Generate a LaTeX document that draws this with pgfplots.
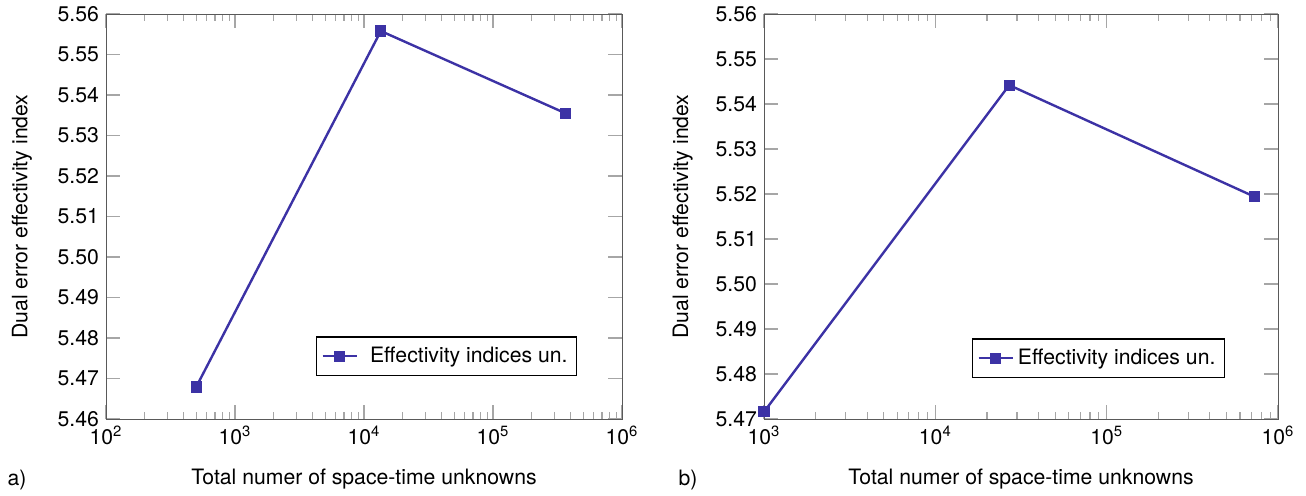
\documentclass[border=0pt]{standalone}
\usepackage{fontspec}
\setmainfont{TeX Gyre Heros}
\usepackage{pgfplots}
\pgfplotsset{compat=1.18}
\definecolor{serblue}{RGB}{60,50,165}
\pgfplotsset{
  myax/.style={
    scale only axis,
    anchor=south west,
    height=202.5pt,
    /pgf/number format/assume math mode=true,
    font=\fontsize{10.6}{12.7}\selectfont,
    axis line style={black!65},
    major tick style={black!35, line width=0.7pt},
    minor tick style={black!35, line width=0.6pt},
    major tick length=7pt,
    minor tick length=3.5pt,
    yticklabel style={/pgf/number format/.cd, fixed, fixed zerofill, precision=2},
    ylabel={Dual error effectivity index},
    xlabel={Total numer of space-time unknowns},
    legend cell align=left,
    legend image post style={xshift=1.5pt},
    legend style={draw=black, line width=0.6pt, font=\fontsize{10.6}{12.7}\selectfont, inner xsep=2.5pt, inner ysep=3pt},
  },
  myplot/.style={serblue, line width=1.2pt, mark=square*, mark size=2.2pt, mark options={solid}},
}
\begin{document}
\begin{tikzpicture}
\path[use as bounding box] (0,0) rectangle (653pt,247.5pt);
\begin{axis}[xmode=log, myax,
  at={(53pt,38pt)}, width=258pt,
  xmin=1e2, xmax=1e6, ymin=5.46, ymax=5.56,
  xtick={1e2,1e3,1e4,1e5,1e6},
  xticklabels={10\textsuperscript{2},10\textsuperscript{3},10\textsuperscript{4},10\textsuperscript{5},10\textsuperscript{6}},
  ytick={5.46,5.47,5.48,5.49,5.50,5.51,5.52,5.53,5.54,5.55,5.56},
  xlabel style={at={(axis description cs:0.5,-0.148)}, anchor=center},
  ylabel style={at={(axis description cs:-0.163,0.5)}, anchor=center},
  legend style={at={(axis description cs:0.913,0.106)}, anchor=south east},
]
\addplot[myplot] coordinates {(500,5.4679) (13500,5.5558) (364500,5.5355)};
\addlegendentry{\hspace{4pt}Effectivity indices un.}
\end{axis}
\begin{axis}[xmode=log, myax,
  at={(382pt,38pt)}, width=257pt,
  xmin=1e3, xmax=1e6, ymin=5.47, ymax=5.56,
  xtick={1e3,1e4,1e5,1e6},
  xticklabels={10\textsuperscript{3},10\textsuperscript{4},10\textsuperscript{5},10\textsuperscript{6}},
  ytick={5.47,5.48,5.49,5.50,5.51,5.52,5.53,5.54,5.55,5.56},
  xlabel style={at={(axis description cs:0.5,-0.148)}, anchor=center},
  ylabel style={at={(axis description cs:-0.158,0.5)}, anchor=center},
  legend style={at={(axis description cs:0.897,0.101)}, anchor=south east},
]
\addplot[myplot] coordinates {(1000,5.4716) (27000,5.5442) (729000,5.5194)};
\addlegendentry{Effectivity indices un.}
\end{axis}
\node[font=\fontsize{10.6}{12.7}\selectfont] at (8.5pt,7.5pt) {a)};
\node[font=\fontsize{10.6}{12.7}\selectfont] at (344pt,7.5pt) {b)};
\end{tikzpicture}
\end{document}
